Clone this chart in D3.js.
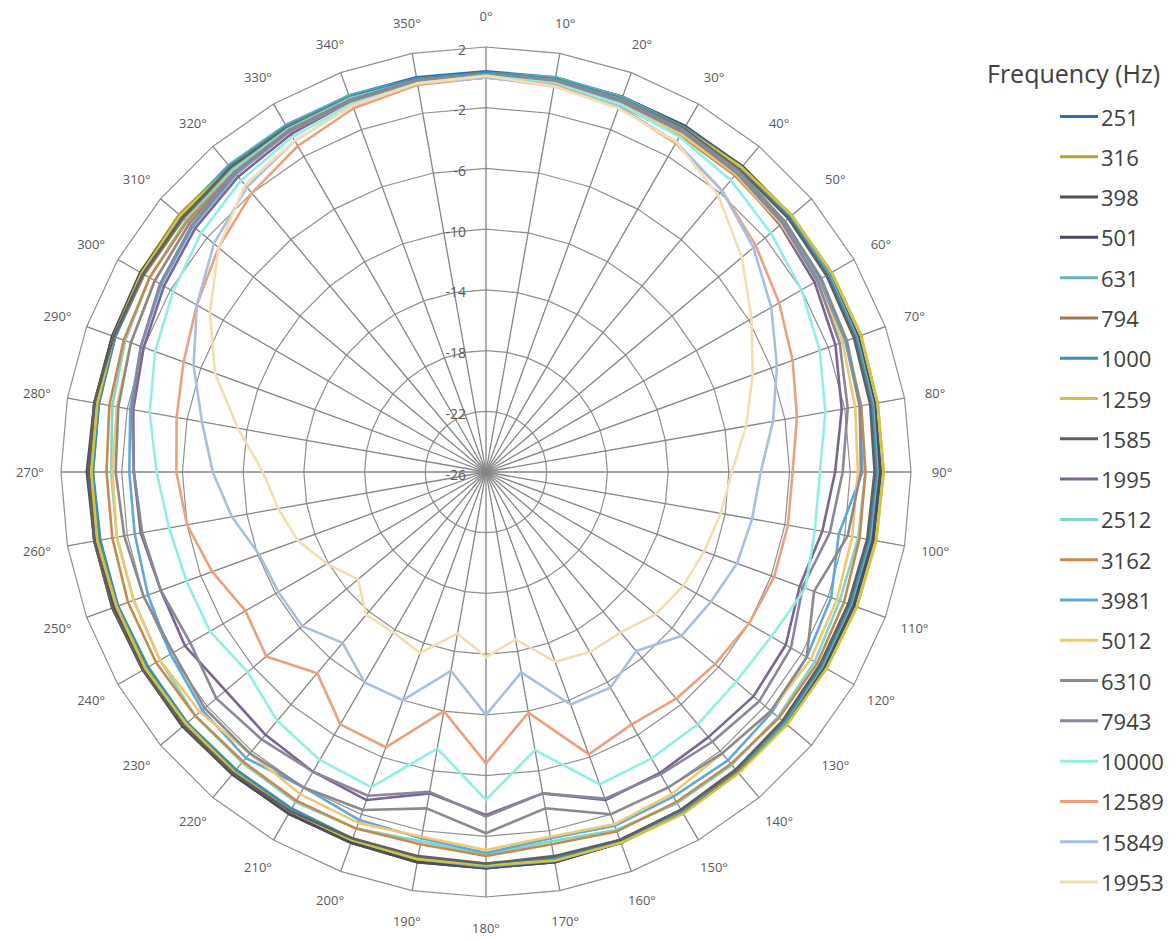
<!DOCTYPE html>
<html>
<head>
<meta charset="utf-8">
<script src="https://cdn.jsdelivr.net/npm/d3@7"></script>
<style>
  body { margin: 0; background: #ffffff; }
  svg { display: block; }
  text { font-family: "Open Sans", "Noto Sans", sans-serif; }
</style>
</head>
<body>
<svg id="chart" width="1175" height="940"></svg>
<script>
// Measurement angles (degrees, clockwise from front) and radial axis ticks (dB)
const angles = d3.range(0, 360, 10);
const radialTicks = [2, -2, -6, -10, -14, -18, -22, -26];

// Frequency bands and their line colours
const frequencies = ["251", "316", "398", "501", "631", "794", "1000", "1259", "1585", "1995",
                     "2512", "3162", "3981", "5012", "6310", "7943", "10000", "12589", "15849", "19953"];
const colors = ["#2f6fa8", "#b8a030", "#505050", "#4b4b66", "#6ab0b8", "#9c7a56", "#3b8fb5", "#d2c440",
                "#606060", "#7a6590", "#7fd6cc", "#c48a50", "#5ea8dc", "#f0c870", "#8a8a8a", "#8a869c",
                "#90eee4", "#eda07e", "#a8c0e0", "#f2dfb0"];

// Relative level (dB) at each angle, one array per frequency band
const f251   = [0.4,0.4,0.3,0.3,0.2,0.2,0.1,0.1,0.0,0.0,-0.1,-0.2,-0.3,-0.3,-0.2,-0.2,-0.1,0.0,0.0,0.0,-0.1,-0.2,-0.2,-0.2,-0.1,-0.1,0.0,0.0,0.0,0.1,0.1,0.2,0.3,0.3,0.4,0.4];
const f316   = [0.2,0.2,0.2,0.2,0.3,0.3,0.3,0.3,0.2,0.2,0.1,0.0,-0.1,-0.2,-0.2,-0.1,0.0,0.0,0.0,0.0,-0.1,-0.1,-0.2,-0.1,0.0,0.0,0.1,0.1,0.1,0.2,0.3,0.4,0.3,0.3,0.3,0.2];
const f398   = [0.3,0.3,0.3,0.3,0.3,0.2,0.1,0.1,0.0,0.0,-0.1,-0.2,-0.2,-0.3,-0.2,-0.1,0.0,0.1,0.1,0.1,0.0,0.0,0.0,0.1,0.1,0.2,0.2,0.3,0.2,0.2,0.3,0.3,0.3,0.3,0.3,0.3];
const f501   = [0.3,0.3,0.3,0.2,0.2,0.1,0.1,0.0,0.0,-0.1,-0.2,-0.3,-0.4,-0.3,-0.2,-0.1,0.0,0.1,0.1,0.1,0.0,0.0,0.0,0.0,0.1,0.1,0.2,0.2,0.2,0.2,0.2,0.2,0.3,0.3,0.3,0.3];
const f631   = [0.3,0.4,0.3,0.2,0.2,0.2,0.1,0.0,-0.1,-0.2,-0.3,-0.4,-0.4,-0.3,-0.3,-0.2,-0.1,0.0,0.0,-0.1,-0.2,-0.3,-0.3,-0.2,-0.2,-0.1,-0.1,0.0,0.0,0.1,0.2,0.3,0.4,0.4,0.4,0.3];
const f794   = [0.0,-0.1,-0.1,0.0,0.0,0.0,0.0,-0.1,-0.2,-0.3,-0.4,-0.5,-0.5,-0.4,-0.3,-0.3,-0.2,-0.2,-0.1,-0.2,-0.3,-0.3,-0.3,-0.3,-0.2,-0.2,-0.1,-0.1,-0.1,0.0,0.0,0.0,0.1,0.0,0.0,0.0];
const f1000  = [0.3,0.3,0.2,0.2,0.2,0.1,0.0,-0.1,-0.2,-0.3,-0.4,-0.5,-0.5,-0.4,-0.4,-0.3,-0.2,-0.1,-0.1,-0.2,-0.3,-0.4,-0.4,-0.3,-0.3,-0.2,-0.2,-0.1,-0.1,0.0,0.1,0.2,0.3,0.3,0.3,0.3];
const f1259  = [0.1,0.1,0.1,0.1,0.2,0.3,0.3,0.3,0.2,0.2,0.1,0.0,-0.1,-0.1,-0.1,0.0,0.0,0.0,-0.1,-0.1,-0.2,-0.2,-0.2,-0.2,-0.1,-0.1,0.0,0.0,0.0,0.1,0.2,0.3,0.2,0.2,0.2,0.1];
const f1585  = [0.2,0.2,0.1,0.1,0.0,0.0,-0.1,-0.2,-0.3,-0.4,-0.5,-0.6,-0.6,-0.5,-0.4,-0.3,-0.2,-0.3,-0.2,-0.3,-0.3,-0.2,-0.1,0.0,0.1,0.2,0.2,0.2,0.2,0.1,0.1,0.1,0.2,0.2,0.2,0.2];
const f1995  = [0.2,0.1,0.0,-0.2,-0.4,-0.7,-1.0,-1.5,-2.2,-3.0,-3.5,-4.0,-3.2,-3.0,-3.2,-3.1,-3.0,-4.5,-3.4,-4.5,-3.0,-3.2,-3.4,-3.6,-3.1,-3.2,-2.9,-2.8,-2.4,-2.0,-1.5,-1.0,-0.6,-0.3,0.0,0.2];
const f2512  = [0.2,0.2,0.1,0.0,-0.2,-0.3,-0.5,-0.7,-0.9,-1.0,-1.1,-1.2,-1.0,-0.9,-0.8,-0.8,-0.9,-1.3,-0.8,-1.3,-1.0,-0.9,-1.0,-1.0,-1.2,-1.3,-1.3,-1.3,-1.0,-0.7,-0.4,-0.2,0.0,0.1,0.2,0.2];
const f3162  = [0.0,-0.1,-0.3,-0.4,-0.5,-0.6,-0.7,-0.8,-0.9,-1.0,-1.0,-0.9,-0.8,-0.8,-0.9,-0.9,-0.8,-1.1,-0.7,-1.1,-1.0,-1.0,-1.1,-1.0,-0.9,-0.9,-1.0,-1.0,-0.8,-0.6,-0.4,-0.3,-0.2,-0.1,0.0,0.0];
const f3981  = [0.2,0.1,0.0,-0.1,-0.3,-0.4,-0.6,-0.8,-1.0,-1.2,-2.4,-1.8,-1.6,-1.4,-1.2,-1.3,-1.2,-1.5,-0.9,-1.5,-1.6,-2.0,-1.4,-1.6,-2.0,-2.3,-2.5,-2.5,-2.2,-1.8,-1.3,-0.8,-0.4,-0.1,0.1,0.2];
const f5012  = [0.0,-0.1,-0.2,-0.3,-0.4,-0.6,-0.8,-1.0,-1.3,-1.5,-1.5,-1.4,-1.3,-1.5,-1.8,-1.5,-1.3,-1.6,-1.1,-1.6,-1.4,-1.5,-1.8,-1.4,-1.2,-1.3,-1.3,-1.4,-1.3,-1.1,-0.8,-0.5,-0.3,-0.1,0.0,0.0];
const f6310  = [0.2,0.2,0.1,0.0,-0.1,-0.3,-0.5,-0.7,-1.0,-1.3,-1.8,-3.0,-1.6,-1.5,-1.8,-2.0,-2.0,-3.5,-2.2,-3.5,-2.3,-2.0,-1.8,-1.8,-2.2,-2.0,-1.8,-1.6,-1.4,-1.1,-0.8,-0.5,-0.2,0.0,0.1,0.2];
const f7943  = [0.1,0.1,0.0,-0.1,-0.3,-0.5,-0.8,-1.2,-1.8,-2.5,-3.0,-3.8,-2.8,-2.5,-2.8,-3.0,-3.1,-4.5,-3.3,-4.6,-3.3,-3.2,-3.0,-2.8,-3.5,-3.2,-3.0,-2.8,-2.3,-1.8,-1.2,-0.7,-0.3,-0.1,0.0,0.1];
const f10000 = [0.1,0.0,-0.2,-0.5,-0.9,-1.5,-2.0,-2.6,-3.3,-4.0,-4.0,-3.6,-4.3,-4.5,-4.3,-4.2,-4.1,-7.4,-4.4,-7.5,-3.9,-4.1,-4.6,-5.5,-5.0,-5.0,-4.8,-4.3,-3.5,-2.8,-2.2,-1.5,-0.9,-0.5,-0.2,0.0];
const f12589 = [0.0,-0.1,-0.4,-1.0,-1.8,-2.8,-3.7,-4.5,-5.2,-5.8,-5.8,-5.8,-6.0,-6.3,-6.5,-6.8,-6.2,-9.9,-6.8,-10.0,-6.7,-6.8,-8.7,-7.1,-7.7,-6.8,-6.0,-5.6,-5.3,-4.8,-4.0,-3.0,-2.0,-1.2,-0.5,-0.1];
const f15849 = [0.0,-0.2,-0.4,-0.9,-1.8,-3.0,-4.3,-5.6,-6.8,-7.9,-8.2,-8.4,-8.9,-9.2,-10.6,-9.6,-9.7,-12.6,-10.0,-12.7,-10.0,-10.0,-11.3,-10.2,-10.2,-10.1,-9.0,-8.0,-7.0,-5.5,-4.0,-2.6,-1.5,-0.8,-0.3,0.0];
const f19953 = [0.1,-0.2,-0.5,-0.9,-2.2,-4.0,-5.8,-7.3,-8.6,-9.8,-10.3,-10.7,-11.0,-11.4,-12.2,-12.3,-12.7,-14.8,-13.8,-15.2,-13.3,-13.8,-13.7,-15.0,-13.9,-12.8,-12.1,-11.3,-9.4,-7.0,-5.0,-3.0,-1.3,-0.8,-0.3,0.0];

const levels = [f251, f316, f398, f501, f631, f794, f1000, f1259, f1585, f1995,
                f2512, f3162, f3981, f5012, f6310, f7943, f10000, f12589, f15849, f19953];

const svg = d3.select("#chart");
const cx = 486, cy = 472, R = 425;

const rScale = d3.scaleLinear().domain([-26, 2]).range([0, R]);
const aScale = d3.scaleLinear().domain([0, 360]).range([0, 2 * Math.PI]);

const plot = svg.append("g").attr("transform", `translate(${cx},${cy})`);

// Grid rings drawn as 36-sided polygons, one per radial tick
const ringLine = d3.lineRadial().curve(d3.curveLinearClosed);
plot.append("g").selectAll("path")
  .data(radialTicks.filter(t => t > -26))
  .join("path")
  .attr("d", t => ringLine(angles.map(a => [aScale(a), rScale(t)])))
  .attr("fill", "none")
  .attr("stroke", "#8f8f8f")
  .attr("stroke-width", 1.2);

// Spokes every 10 degrees
plot.append("g").selectAll("line")
  .data(angles)
  .join("line")
  .attr("x1", 0).attr("y1", 0)
  .attr("x2", a => rScale(2) * Math.sin(aScale(a)))
  .attr("y2", a => -rScale(2) * Math.cos(aScale(a)))
  .attr("stroke", "#858585")
  .attr("stroke-width", 1.3);

// Angle labels around the outside
plot.append("g").selectAll("text")
  .data(angles)
  .join("text")
  .attr("x", a => (R + 31) * Math.sin(aScale(a)))
  .attr("y", a => -(R + 31) * Math.cos(aScale(a)))
  .attr("text-anchor", "middle")
  .attr("dominant-baseline", "central")
  .attr("font-size", 13)
  .attr("fill", "#595959")
  .text(a => a + "°");

// Radial axis labels along the 0° spoke
plot.append("g").selectAll("text")
  .data(radialTicks)
  .join("text")
  .attr("x", -20)
  .attr("y", t => -rScale(t) + 2)
  .attr("text-anchor", "end")
  .attr("dominant-baseline", "central")
  .attr("font-size", 14)
  .attr("fill", "#595959")
  .text(t => t);

// One closed radial line per frequency band
const seriesLine = d3.lineRadial()
  .angle((d, i) => aScale(angles[i]))
  .radius(d => rScale(d))
  .curve(d3.curveLinearClosed);

plot.append("g").selectAll("path")
  .data(levels)
  .join("path")
  .attr("d", d => seriesLine(d))
  .attr("fill", "none")
  .attr("stroke", (d, i) => colors[i])
  .attr("stroke-width", 2.6)
  .attr("stroke-linejoin", "round");

// Legend
const legend = svg.append("g");
legend.append("text")
  .attr("x", 987).attr("y", 73)
  .attr("dominant-baseline", "central")
  .attr("font-size", 25)
  .attr("fill", "#404040")
  .text("Frequency (Hz)");

const rowY = d3.scalePoint().domain(frequencies).range([116.5, 882]);
const item = legend.selectAll("g.item")
  .data(frequencies)
  .join("g")
  .attr("class", "item")
  .attr("transform", f => `translate(0,${rowY(f)})`);
item.append("line")
  .attr("x1", 1060).attr("x2", 1098)
  .attr("stroke", (f, i) => colors[i])
  .attr("stroke-width", 3);
item.append("text")
  .attr("x", 1101)
  .attr("dominant-baseline", "central")
  .attr("font-size", 22)
  .attr("fill", "#404040")
  .text(f => f);
</script>
</body>
</html>
